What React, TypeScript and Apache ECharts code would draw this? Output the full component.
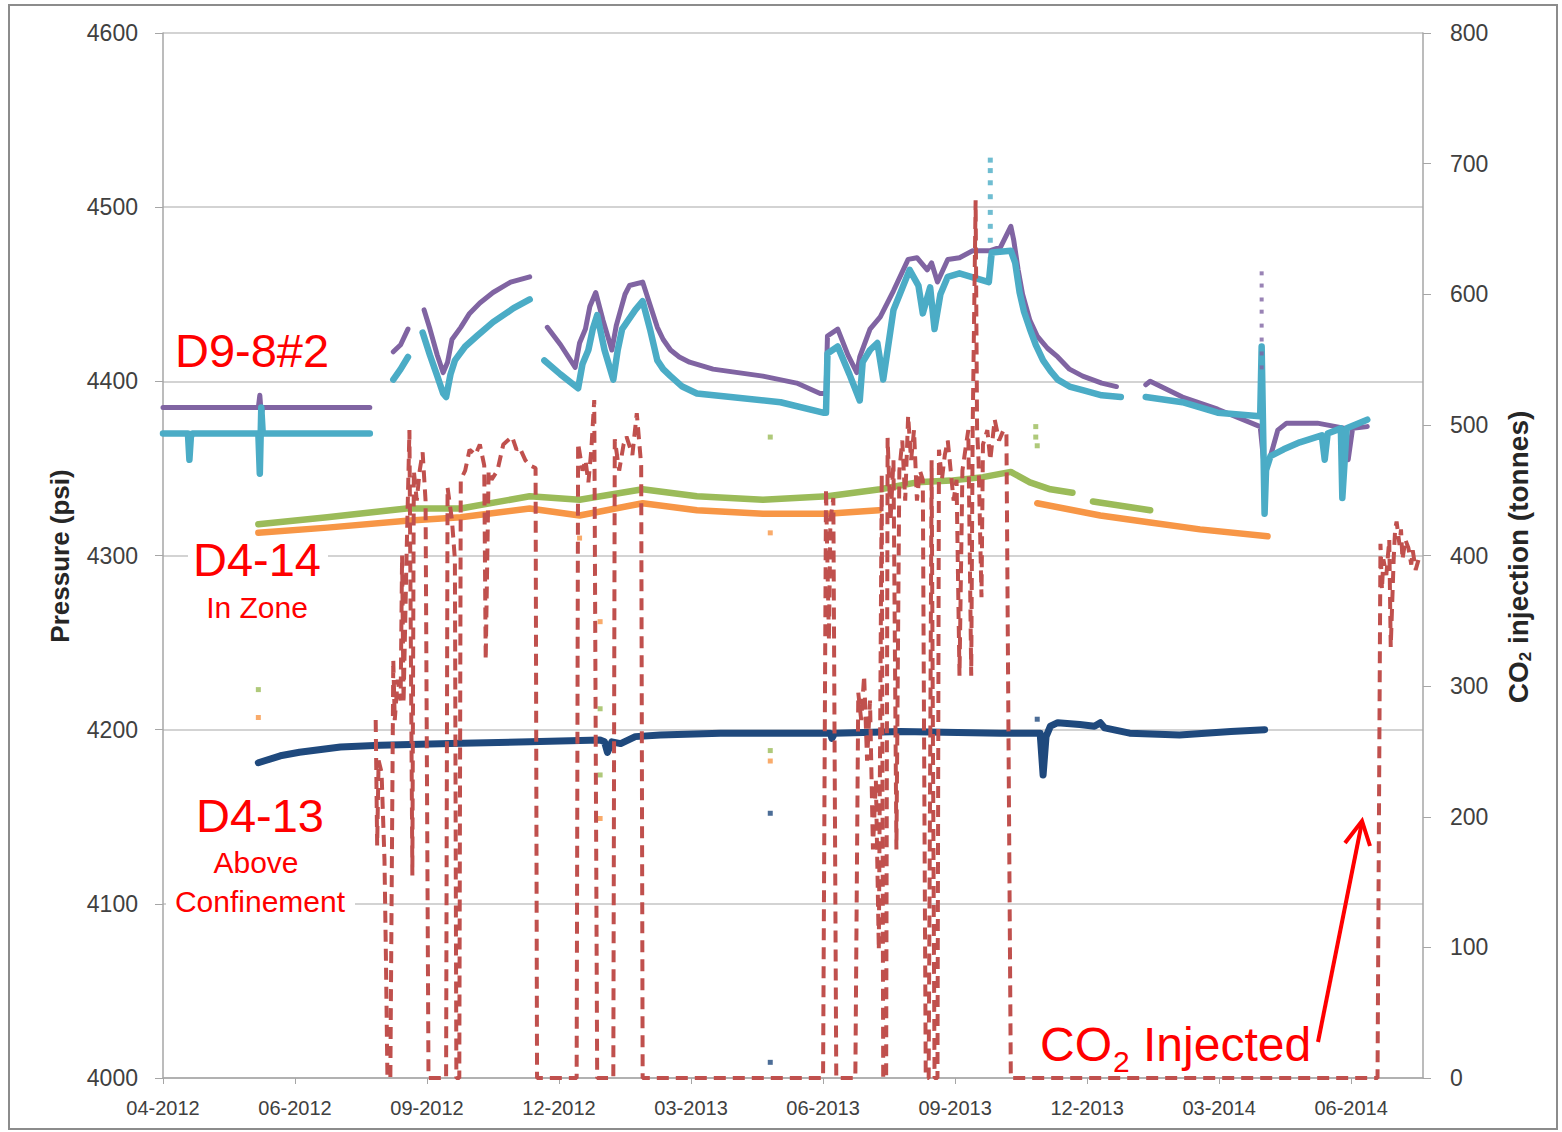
import React, { useEffect, useRef } from "react";
import * as echarts from "echarts";

// Time axis: days counted from 1 April 2012, ticks every 90 days.
const START_UTC = Date.UTC(2012, 3, 1);
const DAY_MS = 86400000;
const X_MAX_DAYS = 859;
const X_TICK_DAYS = [0, 90, 180, 270, 360, 450, 540, 630, 720, 810];

// null in a days/value pair marks a gap in the record.
// D9-8#2 upper gauge (psi)
const purpleDays = [0, 65, 66, 67, 68, 141, null,
  157, 162, 167, null,
  178, 182, 187, 191, 194, 197, 203, 209, 216, 225, 237, 250, null,
  262, 271, 281, 284, 288, 291, 295, 300, 306, 309, 312, 315, 318, 327, 332, 337, 341, 346, 352, 359, 375, 409, 432, 448, 452, 453, 460, 467, 473, 475, 482, 489, 498, 508, 514, 521, 524, 528, 535, 543, 552, 564, 571, 578, 580, 583, 586, 591, 596, 603, 610, 618, 627, 640, 650, null,
  670, 673, 695, 719, 748, 751, 755, 760, 766, 787, 806, 808, 811, 821];
const purplePsi = [4385, 4385, 4392, 4381, 4385, 4385, null,
  4417, 4421, 4430, null,
  4441, 4430, 4415, 4405, 4411, 4424, 4431, 4439, 4445, 4451, 4457, 4460, null,
  4431, 4421, 4408, 4422, 4430, 4443, 4451, 4435, 4418, 4432, 4441, 4450, 4455, 4457, 4444, 4431, 4424, 4418, 4414, 4411, 4407, 4403, 4399, 4393, 4393, 4426, 4430, 4415, 4405, 4414, 4430, 4437, 4452, 4470, 4471, 4464, 4468, 4457, 4470, 4471, 4475, 4475, 4477, 4489, 4481, 4464, 4450, 4435, 4426, 4419, 4414, 4407, 4403, 4399, 4397, null,
  4398, 4400, 4391, 4384, 4374, 4349, 4357, 4372, 4376, 4376, 4373, 4355, 4373, 4374];

// D9-8#2 lower gauge (psi)
const cyanDays = [0, 17, 18, 19, 20, 65, 66, 67, 68, 141, null,
  157, 162, 167, null,
  177, 182, 187, 191, 193, 196, 199, 206, 214, 225, 239, 250, null,
  260, 271, 283, 286, 290, 293, 296, 301, 307, 310, 313, 322, 327, 332, 337, 341, 346, 354, 364, 387, 421, 450, 452, 453, 460, 468, 475, 477, 482, 487, 491, 494, 498, 509, 515, 518, 523, 526, 530, 535, 543, 563, 565, 578, 581, 584, 587, 591, 595, 600, 605, 610, 618, 627, 640, 653, null,
  670, 695, 719, 748, 749, 751, 752, 755, 764, 775, 790, 792, 794, 803, 804, 807, 821];
const cyanPsi = [4370, 4370, 4355, 4368, 4370, 4370, 4347, 4385, 4370, 4370, null,
  4401, 4407, 4414, null,
  4428, 4415, 4403, 4393, 4391, 4404, 4412, 4420, 4426, 4434, 4442, 4447, null,
  4412, 4404, 4396, 4410, 4418, 4430, 4438, 4418, 4401, 4418, 4430, 4441, 4446, 4430, 4412, 4407, 4403, 4397, 4393, 4391, 4388, 4382, 4382, 4416, 4420, 4404, 4389, 4411, 4418, 4422, 4401, 4418, 4441, 4464, 4455, 4439, 4454, 4430, 4450, 4460, 4462, 4457, 4474, 4475, 4468, 4451, 4440, 4430, 4421, 4412, 4406, 4401, 4397, 4395, 4392, 4391, null,
  4391, 4388, 4382, 4380, 4420, 4324, 4349, 4357, 4361, 4365, 4369, 4355, 4370, 4373, 4333, 4373, 4378];

// Sparse readings where the D9-8#2 gauges jump
const purpleDotDays = [749, 749, 749, 749, 749, 749, 749, 749];
const purpleDotPsi = [4462, 4455, 4447, 4440, 4432, 4424, 4416, 4408];
const cyanDotDays = [564, 564, 564, 564, 564, 564, 564, 564];
const cyanDotPsi = [4527, 4521, 4514, 4506, 4497, 4489, 4481, 4470];

// D4-14 in zone, two gauges (psi)
const greenDays = [65, 112, 155, 166, 203, 250, 284, 327, 364, 409, 453, 489, 514, 537, 559, 578, 591, 605, 620, null, 634, 673];
const greenPsi = [4318, 4322, 4326, 4327, 4327, 4334, 4332, 4338, 4334, 4332, 4334, 4338, 4342, 4343, 4345, 4348, 4342, 4338, 4336, null, 4331, 4326];
const orangeDays = [65, 112, 166, 203, 250, 284, 327, 364, 409, 453, 488, null, 596, 639, 673, 707, 753];
const orangePsi = [4313, 4316, 4320, 4322, 4327, 4323, 4330, 4326, 4324, 4324, 4326, null, 4330, 4323, 4319, 4315, 4311];

// D4-13 above confinement (psi)
const blueDays = [65, 80, 93, 121, 148, 196, 250, 298, 301, 303, 306, 312, 322, 339, 380, 434, 455, 456, 458, 503, 571, 598, 600, 602, 605, 610, 625, 635, 639, 642, 659, 693, 728, 751];
const bluePsi = [4181, 4185, 4187, 4190, 4191, 4192, 4193, 4194, 4193, 4187, 4193, 4192, 4196, 4197, 4198, 4198, 4198, 4195, 4198, 4199, 4198, 4198, 4174, 4196, 4202, 4204, 4203, 4202, 4204, 4201, 4198, 4197, 4199, 4200];

// Isolated gauge readings (psi)
const greenDotDays = [65, 298, 298, 414, 414, 595, 595, 596];
const greenDotPsi = [4223, 4212, 4174, 4368, 4188, 4374, 4368, 4363];
const orangeDotDays = [65, 284, 298, 298, 414, 414];
const orangeDotPsi = [4207, 4310, 4262, 4149, 4313, 4182];
const blueDotDays = [65, 414, 414, 596];
const blueDotPsi = [4273, 4152, 4009, 4206];

// Daily CO2 injection (tonnes)
const injDays = [145, 146, 147, 149, 151, 152, 153, 155, 157, 158, 160, 162, 163, 164, 166, 168, 170, 171, 173, 175, 177, 179, 181, 193, 194, 197, 199, 200, 202, 203, 206, 209, 213, 216, 219, 220, 222, 224, 228, 232, 235, 238, 241, 243, 247, 250, 254, 255,
  282, 283, 286, 288, 290, 292, 294, 296, 307, 308, 311, 314, 316, 320, 323, 326, 327,
  450, 452, 454, 455, 457, 459, 472, 474, 476, 478, 480, 482, 484, 486, 488, 490, 491, 493, 494, 496, 498, 500, 502, 504, 506, 508, 510, 512, 514, 516, 518, 520, 522, 524, 526, 528, 529, 531, 533, 535, 537, 539, 541, 543, 545, 547, 549, 551, 552, 554, 555, 556, 558, 559, 562, 564, 567, 570, 573, 575, 578,
  828, 830, 831, 832, 834, 836, 837, 839, 840, 841, 843, 844, 845, 847, 849, 851, 852, 854, 856];
const injTonnes = [274, 178, 243, 234, 167, 90, 0, 0, 320, 274, 305, 289, 400, 287, 397, 496, 155, 465, 442, 465, 479, 442, 0, 0, 452, 427, 397, 0, 0, 458, 465, 481, 477, 485, 469, 320, 465, 458, 465, 485, 488, 491, 481, 483, 473, 469, 467, 0,
  0, 486, 465, 473, 456, 481, 519, 0, 0, 489, 465, 485, 491, 477, 509, 469, 0,
  0, 451, 335, 427, 444, 0, 0, 295, 274, 308, 243, 289, 175, 228, 98, 462, 0, 0, 490, 427, 473, 175, 465, 488, 442, 507, 473, 496, 442, 465, 458, 0, 0, 473, 0, 0, 481, 458, 477, 488, 465, 442, 458, 308, 465, 481, 496, 308, 498, 672, 496, 473, 368, 485, 496, 473, 504, 488, 496, 494, 0,
  0, 409, 374, 397, 385, 412, 330, 397, 420, 426, 408, 420, 397, 412, 406, 393, 404, 389, 397];

const pairs = (days: (number | null)[], vals: (number | null)[]) =>
  days.map((d, i) => (d === null || vals[i] === null ? ["-", "-"] : [d, vals[i]]));

const monthLabel = (v: number) => {
  const dt = new Date(START_UTC + v * DAY_MS);
  return String(dt.getUTCMonth() + 1).padStart(2, "0") + "-" + dt.getUTCFullYear();
};

const FONT = "'Liberation Sans', Arial, sans-serif";
const AXIS_TEXT = "#404040";
const AXIS_LINE = "#a6a6a6";
const NOTE_RED = "#ff0000";

const gaugeLine = (name: string, color: string, days: (number | null)[], vals: (number | null)[], width: number) => ({
  name,
  type: "line",
  data: pairs(days, vals),
  symbol: "none",
  connectNulls: false,
  lineStyle: { color, width, join: "round", cap: "round" },
  z: 2,
});

const dots = (name: string, color: string, days: number[], vals: number[], size = 5) => ({
  name,
  type: "scatter",
  data: pairs(days, vals),
  symbol: "rect",
  symbolSize: size,
  itemStyle: { color },
  z: 2,
});

// white text boxes that sit over the grid lines
const noteBox = (x: number, y: number, w: number, h: number) => ({
  type: "rect",
  shape: { x, y, width: w, height: h },
  style: { fill: "#ffffff" },
  z: 5,
  silent: true,
});

const note = (text: string, x: number, y: number, size: number, align = "left") => ({
  type: "text",
  x,
  y,
  z: 6,
  style: { text, font: `${size}px ${FONT}`, fill: NOTE_RED, textAlign: align, textVerticalAlign: "middle" },
});

export default function App() {
  const ref = useRef<HTMLDivElement>(null);

  useEffect(() => {
    if (!ref.current) return;
    const chart = echarts.init(ref.current, null, { renderer: "svg" });
    chart.setOption({
      animation: false,
      backgroundColor: "#ffffff",
      grid: { left: 163, right: 139, top: 33, bottom: 54, containLabel: false },
      xAxis: {
        type: "value",
        min: 0,
        max: X_MAX_DAYS,
        interval: 90,
        axisLine: { show: true, onZero: false, lineStyle: { color: AXIS_LINE, width: 1.5 } },
        axisTick: { show: true, customValues: X_TICK_DAYS, length: 6, lineStyle: { color: AXIS_LINE } },
        axisLabel: {
          customValues: X_TICK_DAYS,
          formatter: monthLabel,
          fontSize: 20,
          color: AXIS_TEXT,
          fontFamily: FONT,
          margin: 20,
        },
        splitLine: { show: false },
      },
      yAxis: [
        {
          type: "value",
          position: "left",
          min: 4000,
          max: 4600,
          interval: 100,
          axisLine: { show: true, lineStyle: { color: AXIS_LINE, width: 1.5 } },
          axisTick: { show: true, length: 8, lineStyle: { color: AXIS_LINE } },
          axisLabel: { fontSize: 23, color: AXIS_TEXT, fontFamily: FONT, margin: 25, formatter: (v: number) => String(v) },
          splitLine: { show: true, lineStyle: { color: "#c4c4c4", width: 1.5 } },
        },
        {
          type: "value",
          position: "right",
          min: 0,
          max: 800,
          interval: 100,
          axisLine: { show: true, lineStyle: { color: AXIS_LINE, width: 1.5 } },
          axisTick: { show: true, length: 8, lineStyle: { color: AXIS_LINE } },
          axisLabel: { fontSize: 23, color: AXIS_TEXT, fontFamily: FONT, margin: 27, formatter: (v: number) => String(v) },
          splitLine: { show: false },
        },
      ],
      series: [
        gaugeLine("D9-8#2 upper", "#8064a2", purpleDays, purplePsi, 5),
        dots("D9-8#2 upper jump", "#8064a2", purpleDotDays, purpleDotPsi, 4),
        gaugeLine("D9-8#2 lower", "#4bacc6", cyanDays, cyanPsi, 6.5),
        dots("D9-8#2 lower jump", "#4bacc6", cyanDotDays, cyanDotPsi, 5),
        gaugeLine("D4-14 upper", "#9bbb59", greenDays, greenPsi, 6.5),
        gaugeLine("D4-14 lower", "#f79646", orangeDays, orangePsi, 6.5),
        gaugeLine("D4-13", "#1f497d", blueDays, bluePsi, 7),
        dots("D4-14 upper points", "#9bbb59", greenDotDays, greenDotPsi),
        dots("D4-14 lower points", "#f79646", orangeDotDays, orangeDotPsi),
        dots("D4-13 points", "#1f497d", blueDotDays, blueDotPsi),
        {
          name: "CO2 injection",
          type: "line",
          yAxisIndex: 1,
          data: pairs(injDays, injTonnes),
          symbol: "none",
          lineStyle: { color: "#c0504d", width: 4, type: [12, 7], cap: "butt" },
          z: 3,
        },
      ],
      graphic: [
        {
          type: "rect",
          shape: { x: 9, y: 5, width: 1548, height: 1124 },
          style: { fill: "none", stroke: "#8c8c8c", lineWidth: 2 },
          z: 0,
          silent: true,
        },
        {
          type: "text",
          x: 60,
          y: 556,
          rotation: Math.PI / 2,
          style: {
            text: "Pressure (psi)",
            font: `bold 26px ${FONT}`,
            fill: "#262626",
            textAlign: "center",
            textVerticalAlign: "middle",
          },
        },
        {
          type: "text",
          x: 1518,
          y: 557,
          rotation: Math.PI / 2,
          style: {
            text: "{a|CO}{s|2}{a| injection (tonnes)}",
            fill: "#262626",
            textAlign: "center",
            textVerticalAlign: "middle",
            rich: {
              a: { fontSize: 28, fontWeight: "bold", fontFamily: FONT, lineHeight: 32, fill: "#262626" },
              s: { fontSize: 17, fontWeight: "bold", fontFamily: FONT, lineHeight: 17, verticalAlign: "bottom", fill: "#262626" },
            },
          },
        },
        noteBox(188, 537, 140, 90),
        noteBox(166, 790, 189, 128),
        note("D9-8#2", 175, 350, 47),
        note("D4-14", 193, 559, 47),
        note("In Zone", 257, 607, 30, "center"),
        note("D4-13", 196, 815, 47),
        note("Above", 256, 862, 30, "center"),
        note("Confinement", 260, 901, 30, "center"),
        note("CO", 1040, 1044, 48),
        note("2", 1113, 1061, 30),
        note("Injected", 1143, 1044, 48),
        {
          type: "line",
          shape: { x1: 1318, y1: 1042, x2: 1362, y2: 822 },
          style: { stroke: NOTE_RED, lineWidth: 4 },
          z: 10,
        },
        {
          type: "polyline",
          shape: { points: [[1345, 843], [1362, 821], [1370, 846]] },
          style: { stroke: NOTE_RED, lineWidth: 4, fill: "none" },
          z: 10,
        },
      ],
    });
    return () => chart.dispose();
  }, []);

  return <div ref={ref} style={{ position: "fixed", left: 0, top: 0, width: 1562, height: 1132 }} />;
}
